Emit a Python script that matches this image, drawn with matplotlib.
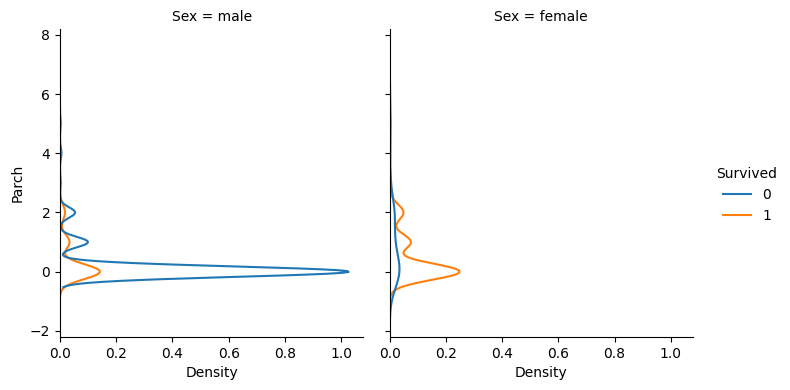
import numpy as np
import pandas as pd
import matplotlib
matplotlib.use('Agg')
import matplotlib.pyplot as plt
import seaborn as sns

# Parch の値と、性別・生存ごとの人数
parch_values = [0, 1, 2, 3, 4, 5, 6]
male_died = [404, 39, 21, 1, 2, 1, 0]
male_survived = [80, 19, 10, 0, 0, 0, 0]
female_died = [41, 14, 19, 1, 2, 3, 1]
female_survived = [153, 46, 30, 3, 0, 1, 0]

groups = [
    ("male", 0, male_died),
    ("male", 1, male_survived),
    ("female", 0, female_died),
    ("female", 1, female_survived),
]

frames = []
for sex, surv, counts in groups:
    frames.append(pd.DataFrame({
        "Parch": np.repeat(parch_values, counts),
        "Sex": sex,
        "Survived": surv,
    }))
df = pd.concat(frames, ignore_index=True)

g = sns.displot(data=df, y="Parch", col="Sex", hue="Survived", kind="kde",
                col_order=["male", "female"], height=3.9, aspect=0.9)
g.figure.set_size_inches(7.9, 3.9)
g.figure.subplots_adjust(left=0.076, right=0.877, bottom=0.136, top=0.926, wspace=0.088)
g.figure.savefig("out.png", dpi=100)
